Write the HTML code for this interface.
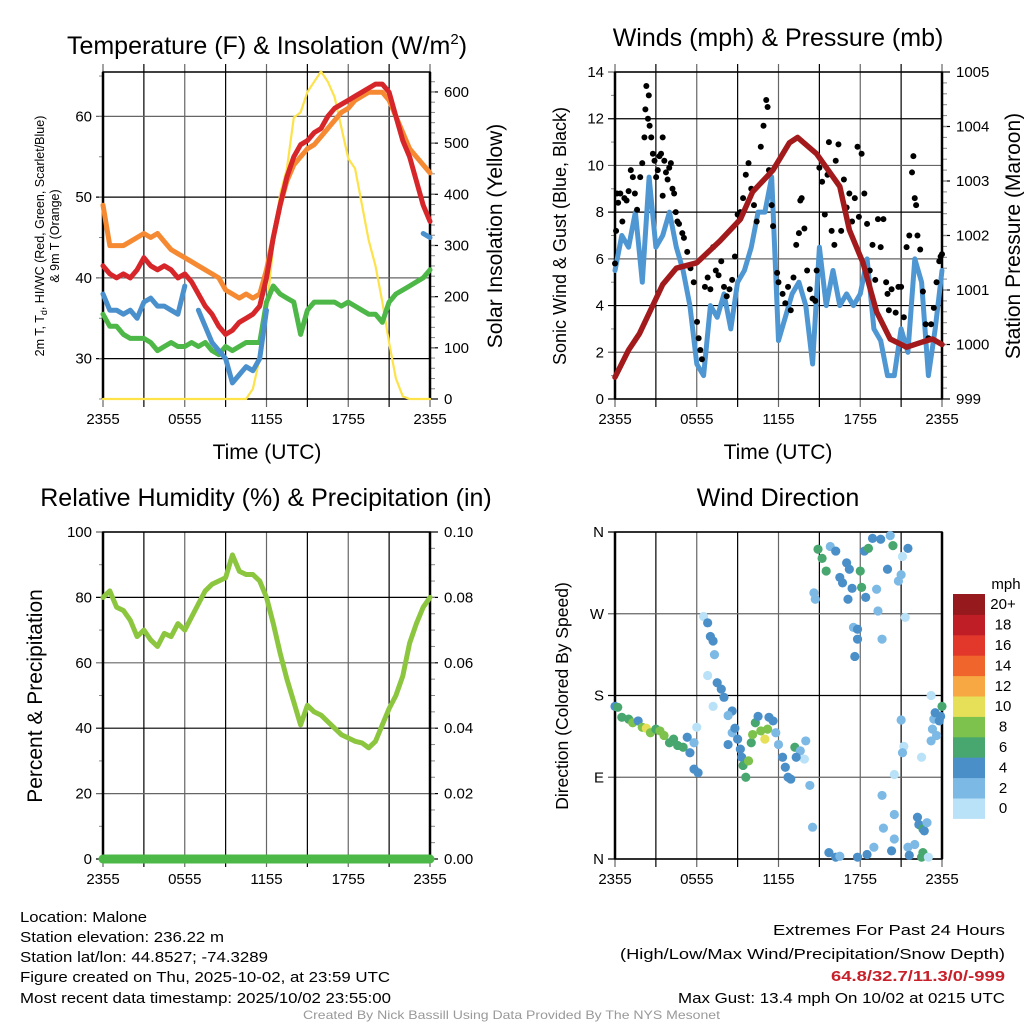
<!DOCTYPE html>
<html><head><meta charset="utf-8"><style>
html,body{margin:0;padding:0;background:#fff;}
svg{display:block;font-family:"Liberation Sans",sans-serif;}
</style></head><body>
<svg id="chart" width="1024" height="1024" viewBox="0 0 1024 1024" xmlns="http://www.w3.org/2000/svg">
<g id="layer"></g>
<g font-size="25" text-anchor="middle">
<text x="267" y="54">Temperature (F) &amp; Insolation (W/m<tspan font-size="15" dy="-10">2</tspan><tspan dy="10">)</tspan></text>
<text x="778" y="46">Winds (mph) &amp; Pressure (mb)</text>
<text x="266" y="506">Relative Humidity (%) &amp; Precipitation (in)</text>
<text x="778" y="506">Wind Direction</text>
</g>
<g text-anchor="middle">
<text x="267" y="459" font-size="21">Time (UTC)</text>
<text x="778" y="459" font-size="21">Time (UTC)</text>
<text font-size="12.5" transform="translate(44,236) rotate(-90)">2m T, T<tspan font-size="9" dy="3">d</tspan><tspan dy="-3">, HI/WC (Red, Green, Scarlet/Blue)</tspan></text>
<text font-size="12.5" transform="translate(59,236) rotate(-90)">&amp; 9m T (Orange)</text>
<text font-size="21" transform="translate(502,236) rotate(-90)">Solar Insolation (Yellow)</text>
<text font-size="18" transform="translate(566,236) rotate(-90)">Sonic Wind &amp; Gust (Blue, Black)</text>
<text font-size="21" transform="translate(1020,236) rotate(-90)">Station Pressure (Maroon)</text>
<text font-size="21" transform="translate(42,696) rotate(-90)">Percent &amp; Precipitation</text>
<text font-size="17.5" transform="translate(568,696) rotate(-90)">Direction (Colored By Speed)</text>
</g>
<g font-size="15">
<text x="20" y="922" textLength="127" lengthAdjust="spacingAndGlyphs">Location: Malone</text>
<text x="20" y="942" textLength="204" lengthAdjust="spacingAndGlyphs">Station elevation: 236.22 m</text>
<text x="20" y="962" textLength="248" lengthAdjust="spacingAndGlyphs">Station lat/lon: 44.8527; -74.3289</text>
<text x="20" y="982" textLength="370" lengthAdjust="spacingAndGlyphs">Figure created on Thu, 2025-10-02, at 23:59 UTC</text>
<text x="20" y="1003" textLength="371" lengthAdjust="spacingAndGlyphs">Most recent data timestamp: 2025/10/02 23:55:00</text>
<text x="773" y="935" textLength="232" lengthAdjust="spacingAndGlyphs">Extremes For Past 24 Hours</text>
<text x="620" y="959" textLength="385" lengthAdjust="spacingAndGlyphs">(High/Low/Max Wind/Precipitation/Snow Depth)</text>
<text x="831" y="981" fill="#c8202a" font-weight="bold" textLength="174" lengthAdjust="spacingAndGlyphs">64.8/32.7/11.3/0/-999</text>
<text x="678" y="1003" textLength="327" lengthAdjust="spacingAndGlyphs">Max Gust: 13.4 mph On 10/02 at 0215 UTC</text>
<text x="303" y="1019" font-size="12" fill="#999" textLength="417" lengthAdjust="spacingAndGlyphs">Created By Nick Bassill Using Data Provided By The NYS Mesonet</text>
</g>
</svg>
<script>
// ---------- data (half-hourly, hours since 2355 UTC) ----------
var hours = [0,0.5,1,1.5,2,2.5,3,3.5,4,4.5,5,5.5,6,6.5,7,7.5,8,8.5,9,9.5,10,10.5,11,11.5,12,12.5,13,13.5,14,14.5,15,15.5,16,16.5,17,17.5,18,18.5,19,19.5,20,20.5,21,21.5,22,22.5,23,23.5,24];
var tempRed = [41.5,40.5,40,40.5,40,41,42.5,41.5,41,41.5,41,40,40.5,39.5,38,36.5,35.5,34,33,33.5,34.5,35,35.5,36.5,40,45,49,52.5,55,56.5,57,58,58.5,60,61,61.5,62,62.5,63,63.5,64,64,63,60,57,55,52,49,47];
var temp9m = [49,44,44,44,44.5,45,45.5,45,45.5,44.5,43.5,43,42.5,42,41.5,41,40.5,40,38.5,38,37.5,38,37.5,38,41,45,49,52,54,55,56,56.5,57.5,58.5,59.5,60.5,61,62,62.5,63,63,63,62,60,58,56,55,54,53];
var windChill = [38,36,36,35.5,36,35,37,37.5,36.5,36.5,36,35.5,39,null,36,34,32,31,30,27,28,29,28.5,30,36,null,null,null,null,null,null,null,null,null,null,null,null,null,null,null,null,null,null,null,null,null,null,45.5,45];
var dewpoint = [35.5,34,34,33,32.5,32.5,32.5,32,31,31.5,32,31.5,31.5,32,31.5,32,31,30.5,31.5,31,31.5,32,32,32,37,39,38,37.5,37,33,36,37,37,37,37,36.5,37,36.5,36,35.5,35.5,34.5,37,38,38.5,39,39.5,40,41];
var solar = [0,0,0,0,0,0,0,0,0,0,0,0,0,0,0,0,0,0,0,0,0,0,20,80,170,300,400,450,550,560,600,620,640,620,590,530,470,450,380,310,260,190,110,40,5,0,0,0,0];
var windSpeed = [5.5,7,6.5,8,5,9.5,6.5,7,8,6.5,5.5,4,1.5,1,4,3.5,4.5,3,5,5.5,6.5,8,8,9.5,2.5,3.5,4.5,5,4,1.5,6.5,4,5.5,4,4.5,4,4.5,6,3,2.5,1,1,3,2,6,5,1,3,5.5];
var pressHours = [0,1,1.8,3.5,4.5,6,7.7,9.2,10.1,11.6,12.8,13.4,14.8,16.5,17.2,18.2,19.2,20.2,21.4,22.6,23.3,24];
var pressure = [999.4,999.9,1000.2,1001.1,1001.4,1001.5,1001.9,1002.3,1002.8,1003.2,1003.7,1003.8,1003.5,1002.9,1002.1,1001.5,1000.6,1000.1,999.95,1000.05,1000.1,1000.0];
var gustHours = [0,0.08,0.15,0.23,0.39,0.54,0.69,0.85,1.0,1.16,1.31,1.46,1.62,1.85,2.0,2.16,2.23,2.3,2.42,2.48,2.54,2.66,2.78,2.9,3.02,3.14,3.26,3.38,3.5,3.5,3.62,3.74,3.86,3.98,4.1,4.22,4.34,4.46,4.58,4.7,4.94,5.06,5.3,5.54,5.78,6.02,6.14,6.26,6.38,6.6,6.8,7.0,7.2,7.4,7.6,7.8,8.0,8.2,8.4,8.6,8.8,9.0,9.2,9.4,9.6,9.8,10.0,10.2,10.4,10.7,10.9,11.1,11.2,11.3,11.5,11.6,11.9,12.0,12.3,12.5,12.7,12.9,13.1,13.3,13.5,13.6,13.7,13.9,14.1,14.3,14.5,14.7,14.8,15.0,15.2,15.4,15.6,15.7,15.9,16.1,16.2,16.4,16.6,16.8,17.0,17.2,17.4,17.6,17.8,17.9,18.1,18.3,18.5,18.7,18.9,19.1,19.3,19.5,19.7,19.9,20.0,20.1,20.3,20.6,20.8,21.0,21.2,21.4,21.6,21.8,21.9,22.0,22.1,22.2,22.4,22.6,22.8,23.0,23.2,23.4,23.6,23.8,23.9,24.0];
var gustValues = [5.8,7.2,8.8,8.4,8.8,7.6,8.6,8.5,8.9,9.8,9.5,8.8,8.1,9.5,10.1,11.2,12.4,13.4,12.0,13.0,11.7,11.2,10.5,10.2,9.5,9.8,10.4,10.5,8.7,11.2,10.2,9.7,9.4,9.9,10.1,9.0,8.8,8.0,7.6,7.5,7.1,6.9,6.3,5.6,5.0,3.3,2.6,2.1,1.7,4.8,5.2,4.7,6.5,5.5,5.3,5.9,4.8,4.4,4.7,5.1,6.1,7.9,8.0,8.6,9.6,10.1,9.0,8.3,7.6,10.8,11.7,12.8,12.5,9.8,8.3,7.4,5.4,5.0,4.5,4.1,4.8,3.8,5.2,6.6,7.1,8.5,8.6,7.3,5.5,4.7,4.3,4.2,5.5,9.9,9.3,7.9,9.6,11.0,7.2,6.6,10.2,10.9,7.2,9.4,8.2,8.8,7.6,8.6,10.8,7.8,10.5,8.8,7.5,5.5,6.6,5.1,7.7,6.5,7.7,5.0,4.5,3.8,4.7,3.7,4.8,4.8,3.5,6.5,7.0,9.7,10.4,8.6,8.3,7.0,6.4,4.6,3.2,2.6,3.2,3.9,5.0,5.9,6.1,6.2];
var rhValues = [80,82,77,76,73,68,70,67,65,69,68,72,70,74,78,82,84,85,86,93,88,87,87,85,80,72,63,55,48,41,47,45,44,42,40,38,37,36,35.5,34,36,41,46,50,56,66,72,77,80];
var precipValues = [0,0,0,0,0,0,0,0,0,0,0,0,0,0,0,0,0,0,0,0,0,0,0,0,0,0,0,0,0,0,0,0,0,0,0,0,0,0,0,0,0,0,0,0,0,0,0,0,0];
var dirHours = [0,0.2,0.5,1,1.3,1.7,2,2.3,2.6,3,3.3,3.6,4,4.3,4.6,5,5.3,5.5,5.8,5.8,6.1,6,6.5,6.8,7,7.2,7.3,6.8,7.5,7.8,8,7.2,8.6,8.3,8.6,8.3,8.8,9,9.2,9.3,9.4,9.6,9.8,10,10.1,10.3,10.5,10.7,11,11.2,11.3,11.6,11.8,12,12.3,12.5,12.7,12.9,13.2,13.6,13.9,14,14.3,14.5,13.3,14.6,14.7,14.9,15.2,15.5,15.8,16.2,16.5,16.7,17,17.2,17.1,17.4,17.5,17.6,17.8,17.8,18,18.1,18.3,18.4,18.6,18.9,19.2,19.3,19.5,19.6,20,20.2,20.4,20.8,21,21.1,21.3,21.5,15.7,16.2,16.5,17.8,18.5,19,19.7,19.6,20.3,20.5,20.5,20.5,21.2,21.1,21,21.5,21.6,22,22.2,22.3,22.6,22.6,22.5,22.7,22.9,23,22.5,23.2,23.3,23.4,23.5,23.6,23.8,23.9,24,23.2];
var dirDegrees = [168,167,156,154,150,152,145,144,139,143,141,136,128,132,125,123,134,117,128,99,95,145,267,260,245,240,225,202,194,187,178,168,163,158,139,126,144,132,121,112,103,90,108,128,137,150,157,141,132,143,156,152,139,126,112,101,90,88,123,119,110,130,81,35,112,293,286,341,331,317,344,339,310,304,326,319,286,298,255,223,242,253,317,299,339,288,342,353,297,273,352,242,319,356,345,306,313,333,266,342,7,2,3,2,5,13,34,70,9,22,49,93,124,117,153,13,4,16,46,38,33,7,2,31,40,2,112,180,143,154,161,136,152,157,168,130];
var dirSpeeds = [4,6,6,6,8,4,8,10,8,6,8,8,6,6,6,6,4,4,2,4,4,1,1,4,4,4,2,1,4,4,4,1,4,2,2,4,4,4,4,4,6,6,8,6,8,6,4,8,10,8,4,4,2,2,4,4,4,4,6,2,1,2,2,2,4,2,2,6,6,6,2,4,4,4,4,4,4,4,2,4,4,4,6,6,4,4,6,4,2,2,4,2,4,2,6,2,2,1,1,4,4,4,2,4,4,2,2,2,4,2,2,1,1,2,2,2,4,2,4,4,6,6,6,4,2,1,1,1,2,2,4,2,4,4,6,2];
var speedLabels = ["0","2","4","6","8","10","12","14","16","18","20+"];
var speedColors = ["#b9e2f8","#7db9e5","#4b8fc9","#47a76f","#7dc24c","#e6df58","#f7a842","#f0652b","#e1382b","#bf1e26","#96191d"];
var timeLabels = ["2355","0555","1155","1755","2355"];

// ---------- helpers ----------
var NS = "http://www.w3.org/2000/svg";
var layer = document.getElementById("layer");
function mk(tag, attrs, parent){ var e=document.createElementNS(NS,tag); for(var k in attrs) e.setAttribute(k,attrs[k]); (parent||layer).appendChild(e); return e; }
function scale(d0,d1,r0,r1){ return function(v){ return r0+(v-d0)*(r1-r0)/(d1-d0); }; }
function pathFrom(xs, ys, fx, fy){ var d="", pen=false; for(var i=0;i<xs.length;i++){ if(ys[i]===null){pen=false;continue;} d+=(pen?"L":"M")+fx(xs[i]).toFixed(1)+","+fy(ys[i]).toFixed(1); pen=true;} return d; }

function panel(name){
  var g = mk("g",{});
  
  
  return g;
}
function frame(g, L,R,T,B, fx, yTicks, fy, yLabels, rTicks, fr, rLabels, rMinor, lMinor, noTopTicks){
  for(var h=0; h<=24; h+=3){
    var x=fx(h);
    var ln=mk("line",{x1:x,x2:x,y1:T-(noTopTicks?0:8),y2:B+8,stroke:(h%6===3?"#000":"#666"),"stroke-width":1.2},g);
    
    
  }
  for(var i=0;i<timeLabels.length;i++){
    var t=mk("text",{x:fx(i*6),y:B+25,"font-size":15,"text-anchor":"middle"},g); t.textContent=timeLabels[i];
    
    
  }
  for(var j=0;j<yTicks.length;j++){
    var y=fy(yTicks[j]);
    var hl=mk("line",{x1:L-7,x2:R,y1:y,y2:y,stroke:(j%2?"#666":"#000"),"stroke-width":1.2},g);
    
    
    var tl=mk("text",{x:L-11,y:y+5,"font-size":15,"text-anchor":"end"},g); tl.textContent=yLabels[j];
    
    
  }
  if(lMinor){ for(var m=0;m<lMinor.length;m++){ var yy=fy(lMinor[m]); mk("line",{x1:L-4,x2:L,y1:yy,y2:yy,stroke:"#888","stroke-width":1},g);} }
  if(rTicks){
    for(var k=0;k<rTicks.length;k++){
      var yr=fr(rTicks[k]);
      mk("line",{x1:R,x2:R+8,y1:yr,y2:yr,stroke:"#000","stroke-width":1.2},g);
      var rl=mk("text",{x:R+14,y:yr+5,"font-size":15},g); rl.textContent=rLabels[k];
      
      
    }
    for(var n=0;n<rMinor.length;n++){ var ym=fr(rMinor[n]); mk("line",{x1:R,x2:R+5,y1:ym,y2:ym,stroke:"#888","stroke-width":1},g);}
  }
  var bx=mk("rect",{x:L,y:T,width:R-L,height:B-T,fill:"none",stroke:"#000","stroke-width":1.5},g);
  
  
  mk("line",{x1:L,x2:L,y1:T,y2:B,stroke:"#000","stroke-width":2.5},g);
  mk("line",{x1:R,x2:R,y1:T,y2:B,stroke:"#000","stroke-width":2.5},g);
}
function series(g, xs, ys, fx, fy, color, w, name){
  var p=mk("path",{d:pathFrom(xs,ys,fx,fy),fill:"none",stroke:color,"stroke-width":w,"stroke-linejoin":"round","stroke-linecap":"round"},g);
  
  
  return p;
}
function range(a,b,s){ var r=[]; for(var v=a; v<=b+1e-9; v+=s) r.push(+v.toFixed(4)); return r; }

// ---------- Panel 1: temperature ----------
(function(){
  var L=103,R=430,T=72,B=399;
  var g=panel('temperature-panel');
  var fx=scale(0,24,L,R), fy=scale(25,65.5,B,T), fs=scale(0,639,B,T);
  frame(g,L,R,T,B,fx,[30,40,50,60],fy,["30","40","50","60"],[0,100,200,300,400,500,600],fs,["0","100","200","300","400","500","600"],range(20,620,20),range(25,65,5));
  series(g,hours,solar,fx,fs,"#fde24a",2.2,'solar-insolation-line');
  series(g,hours,dewpoint,fx,fy,"#4db748",5,'dewpoint-line');
  series(g,hours,temp9m,fx,fy,"#f58a33",5,'temp-9m-line');
  series(g,hours,windChill,fx,fy,"#4a90cc",5,'wind-chill-line');
  series(g,hours,tempRed,fx,fy,"#d7262a",5,'temp-2m-line');
})();

// ---------- Panel 2: wind & pressure ----------
(function(){
  var L=615,R=942,T=72,B=399;
  var g=panel('wind-panel');
  var fx=scale(0,24,L,R), fy=scale(0,14,B,T), fp=scale(999,1005,B,T);
  frame(g,L,R,T,B,fx,[0,2,4,6,8,10,12,14],fy,["0","2","4","6","8","10","12","14"],[999,1000,1001,1002,1003,1004,1005],fp,["999","1000","1001","1002","1003","1004","1005"],range(999.2,1004.8,0.2),range(1,13,2));
  series(g,hours,windSpeed,fx,fy,"#4f97d2",5,'sonic-wind-line');
  for(var i=0;i<gustHours.length;i++){
    var c=mk("circle",{cx:fx(gustHours[i]),cy:fy(gustValues[i]),r:3,fill:"#000"},g);
    
    
  }
  series(g,pressHours,pressure,fx,fp,"#a31a1c",5.5,'pressure-line');
})();

// ---------- Panel 3: RH & precip ----------
(function(){
  var L=103,R=430,T=532,B=859;
  var g=panel('humidity-panel');
  var fx=scale(0,24,L,R), fy=scale(0,100,B,T), fp=scale(0,0.1,B,T);
  frame(g,L,R,T,B,fx,[0,20,40,60,80,100],fy,["0","20","40","60","80","100"],[0,0.02,0.04,0.06,0.08,0.1],fp,["0.00","0.02","0.04","0.06","0.08","0.10"],range(0.005,0.095,0.005),range(10,90,20),true);
  series(g,hours,rhValues,fx,fy,"#8cc63f",5,'relative-humidity-line');
  series(g,hours,precipValues,fx,fp,"#4cb848",9,'precipitation-line');
})();

// ---------- Panel 4: wind direction ----------
(function(){
  var L=615,R=942,T=532,B=859;
  var g=panel('direction-panel');
  var fx=scale(0,24,L,R), fy=scale(0,360,B,T);
  frame(g,L,R,T,B,fx,[0,90,180,270,360],fy,["N","E","S","W","N"],null,null,null,null,null,true);
  for(var i=0;i<dirHours.length;i++){
    var idx=Math.min(10,Math.floor(dirSpeeds[i]/2));
    var c=mk("circle",{cx:fx(dirHours[i]),cy:fy(dirDegrees[i]),r:4.6,fill:speedColors[idx]},g);
    
    
  }
  var cb=mk("g",{},g);
  
  
  var top=594, h=20.4;
  for(var k=0;k<speedColors.length;k++){
    var y=top+(10-k)*h;
    var r=mk("rect",{x:953,y:y,width:32,height:h+0.5,fill:speedColors[k]},cb);
    
    
    var t=mk("text",{x:1003,y:y+h/2+5,"font-size":15,"text-anchor":"middle"},cb); t.textContent=speedLabels[k];
    
    
  }
  var u=mk("text",{x:1006,y:589,"font-size":15,"text-anchor":"middle"},cb); u.textContent="mph";
  
  
})();
</script>
</body></html>
